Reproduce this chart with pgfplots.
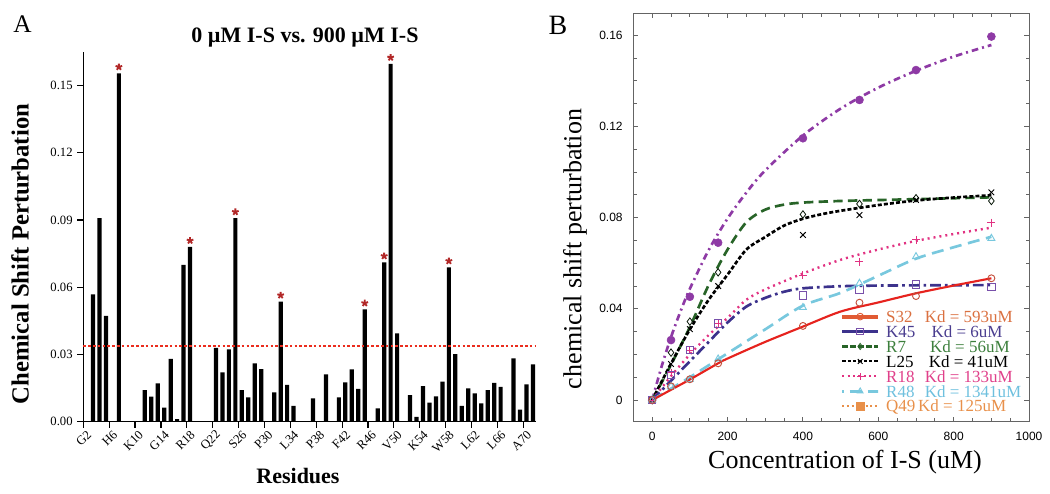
\documentclass[border=0pt]{standalone}
\usepackage{fontspec}
\setmainfont{Liberation Serif}
\newfontfamily\arialfont{Liberation Sans}
\usepackage{pgfplots}
\pgfplotsset{compat=1.18}

\definecolor{starred}{RGB}{178,40,40}
\definecolor{thrred}{RGB}{235,45,30}
\definecolor{cpurple}{RGB}{142,58,165}
\definecolor{cgreen}{RGB}{40,100,40}
\definecolor{cnavy}{RGB}{60,50,140}
\definecolor{csq}{RGB}{120,80,170}
\definecolor{cmag}{RGB}{225,50,130}
\definecolor{clblue}{RGB}{120,200,222}
\definecolor{cred}{RGB}{230,35,30}
\definecolor{cbrown}{RGB}{195,80,60}
\definecolor{tS}{RGB}{218,112,64}
\definecolor{tK}{RGB}{74,61,143}
\definecolor{tR}{RGB}{60,127,60}
\definecolor{tM}{RGB}{224,64,138}
\definecolor{tB}{RGB}{110,192,222}
\definecolor{tQ}{RGB}{232,144,74}
\definecolor{boxgray}{RGB}{100,100,100}

\pgfplotstableread{
u v
1.5 0.0568
2.5 0.0908
3.5 0.0472
5.5 0.1555
9.5 0.0141
10.5 0.0112
11.5 0.0171
12.5 0.0063
13.5 0.0280
14.5 0.0012
15.5 0.0700
16.5 0.0780
20.5 0.0330
21.5 0.0220
22.5 0.0323
23.5 0.0908
24.5 0.0141
25.5 0.0109
26.5 0.0260
27.5 0.0235
29.5 0.0131
30.5 0.0536
31.5 0.0164
32.5 0.0071
35.5 0.0104
37.5 0.0211
39.5 0.0109
40.5 0.0176
41.5 0.0234
42.5 0.0146
43.5 0.0501
45.5 0.0060
46.5 0.0711
47.5 0.1597
48.5 0.0394
50.5 0.0119
51.5 0.0022
52.5 0.0159
53.5 0.0085
54.5 0.0113
55.5 0.0179
56.5 0.0689
57.5 0.0302
58.5 0.0071
59.5 0.0149
60.5 0.0126
61.5 0.0082
62.5 0.0141
63.5 0.0173
64.5 0.0155
66.5 0.0283
67.5 0.0054
68.5 0.0167
69.5 0.0256
}\barsA

\pgfplotstableread{
u v
5.5 0.1583
16.5 0.0808
23.5 0.0936
30.5 0.0564
43.5 0.0529
46.5 0.0739
47.5 0.1625
56.5 0.0717
}\starsA

\begin{document}
\begin{tikzpicture}
\path[use as bounding box] (0,0) rectangle (787.5pt,369.75pt);

% ---------------- Panel A ----------------
\begin{axis}[
  at={(62.475pt,53.475pt)}, anchor=south west,
  scale only axis, width=339.7pt, height=277.3pt,
  xmin=0, xmax=70, ymin=0, ymax=0.165,
  clip=false,
  axis x line=bottom, axis y line=left,
  axis line style={-, line width=1pt},
  x axis line style={-}, y axis line style={-},
  tick align=outside, major tick length=4.5pt,
  tick style={black, line width=0.9pt},
  xtick={0,4,...,68},
  xticklabels={G2,H6,K10,G14,R18,Q22,S26,P30,L34,P38,F42,R46,V50,K54,W58,L62,L66,A70},
  xticklabel style={rotate=45, anchor=east, font=\fontsize{9.5}{10}\selectfont, inner sep=1.5pt, yshift=-6pt, xshift=2pt},
  ytick={0,0.03,0.06,0.09,0.12,0.15},
  yticklabels={0.00,0.03,0.06,0.09,0.12,0.15},
  yticklabel style={font=\fontsize{9.5}{10}\selectfont},
  /pgf/number format/assume math mode=true,
]
\addplot[ybar, bar width=0.65, bar shift=0pt, fill=black, draw=none] table[x=u,y=v] {\barsA};
\addplot[thrred, line width=1pt, dash pattern=on 2pt off 1.6pt] coordinates {(0,0.0338) (70,0.0338)};
\addplot[only marks, mark=star, mark size=2.6pt, starred, mark options={line width=1.4pt}] table[x=u,y=v] {\starsA};
\end{axis}

% ---------------- Panel B ----------------
\begin{axis}[
  at={(475pt,53.475pt)}, anchor=south west,
  scale only axis, width=296.8pt, height=306.3pt,
  xmin=-50, xmax=1000, ymin=-0.0095, ymax=0.1696,
  axis line style={boxgray, line width=0.8pt},
  tick align=inside, major tick length=3.5pt, minor tick length=2.5pt,
  tick style={boxgray, line width=0.7pt},
  xtick={0,200,400,600,800,1000},
  xticklabels={0,200,400,600,800,1000},
  minor x tick num=3,
  ytick={0,0.04,0.08,0.12,0.16},
  yticklabels={0,0.04,0.08,0.12,0.16},
  minor y tick num=3,
  xticklabel style={font=\arialfont\fontsize{9}{10}\selectfont, yshift=-4pt},
  yticklabel style={font=\arialfont\fontsize{9}{10}\selectfont, xshift=-4.5pt},
  /pgf/number format/assume math mode=true,
  legend image code/.code={\draw[mark repeat=2,mark phase=2] plot coordinates {(0pt,0pt)(13.5pt,0pt)(27pt,0pt)};},
  legend cell align=left,
  legend style={at={(0.522,0.272)}, anchor=north west, draw=none, fill=none,
    inner sep=0pt, row sep=2.6pt, column sep=4.5pt,
    font=\fontsize{12.75}{13}\selectfont,
    nodes={inner sep=0pt, text height=8.6pt, text depth=0pt}},
]
% Q49 (purple)
\addplot[cpurple, line width=2pt, dash pattern=on 5pt off 3pt on 1.5pt off 3pt, smooth, forget plot] coordinates {
(0,0)(25,0.0147)(50,0.0276)(75,0.0388)(100,0.0488)(150,0.0658)(200,0.0796)(250,0.0910)(300,0.1007)(400,0.1160)(500,0.1278)(600,0.1370)(700,0.1444)(800,0.1506)(900,0.1557)};
\addplot[only marks, mark=*, mark size=3pt, cpurple, forget plot] coordinates {
(0,0)(50,0.0263)(100,0.0453)(175,0.069)(400,0.1148)(550,0.1316)(700,0.1447)(900,0.1594)};
% R7 (green)
\addplot[cgreen, line width=2pt, dash pattern=on 7pt off 4pt, smooth, forget plot] coordinates {
(0,0)(50,0.0155)(100,0.032)(150,0.0505)(200,0.066)(250,0.078)(300,0.0835)(350,0.0857)(400,0.0866)(500,0.0873)(600,0.0877)(700,0.0881)(800,0.0885)(900,0.0889)};
\addplot[only marks, mark=diamond, mark size=2.8pt, black!75!cgreen, mark options={line width=0.6pt}, forget plot] coordinates {
(0,0)(50,0.0208)(100,0.0344)(175,0.056)(400,0.0814)(550,0.086)(700,0.0885)(900,0.0873)};
% L25 (black)
\addplot[black, line width=2pt, dash pattern=on 3pt off 1.6pt, smooth, forget plot] coordinates {
(0,0)(50,0.016)(100,0.031)(150,0.044)(200,0.055)(250,0.066)(300,0.0715)(350,0.0765)(400,0.0795)(450,0.0815)(500,0.083)(600,0.0855)(700,0.0875)(800,0.0888)(900,0.0898)};
\addplot[only marks, mark=x, mark size=3pt, black, mark options={line width=0.7pt}, forget plot] coordinates {
(0,0)(50,0.0158)(100,0.0311)(175,0.050)(400,0.0724)(550,0.0811)(700,0.0877)(900,0.0911)};
% R18 (magenta)
\addplot[cmag, line width=1.8pt, dash pattern=on 1.5pt off 3pt, smooth, forget plot] coordinates {
(0,0)(50,0.0105)(100,0.020)(150,0.0285)(200,0.036)(250,0.044)(300,0.0485)(400,0.0555)(500,0.0615)(600,0.066)(700,0.0698)(800,0.0728)(900,0.0756)};
\addplot[only marks, mark=+, mark size=3pt, cmag, mark options={line width=0.7pt}, forget plot] coordinates {
(0,0)(50,0.012)(100,0.0219)(175,0.0336)(400,0.0548)(550,0.0607)(700,0.0702)(900,0.0778)};
% K45 (navy)
\addplot[cnavy, line width=2pt, dash pattern=on 8pt off 3pt on 2pt off 3pt, smooth, forget plot] coordinates {
(0,0)(50,0.0085)(100,0.017)(150,0.0255)(200,0.034)(250,0.041)(300,0.0448)(350,0.0475)(400,0.049)(500,0.0499)(600,0.0502)(700,0.0503)(900,0.0504)};
\addplot[only marks, mark=square, mark size=2.8pt, csq, mark options={line width=0.7pt}, forget plot] coordinates {
(0,0)(50,0.011)(100,0.0219)(175,0.0336)(400,0.0458)(550,0.0485)(700,0.0507)(900,0.0497)};
% R48 (light blue)
\addplot[clblue, line width=2pt, dash pattern=on 9pt off 5pt, smooth, forget plot] coordinates {
(0,0)(50,0.005)(100,0.010)(200,0.0205)(300,0.031)(400,0.0414)(500,0.047)(600,0.0545)(700,0.062)(800,0.067)(900,0.0716)};
\addplot[only marks, mark=triangle, mark size=3pt, clblue, mark options={line width=0.7pt}, forget plot] coordinates {
(0,0)(50,0.006)(100,0.009)(175,0.018)(400,0.0406)(550,0.0512)(700,0.0629)(900,0.0709)};
% S32 (red)
\addplot[cred, line width=1.6pt, smooth, forget plot] coordinates {
(0,0)(50,0.0045)(100,0.009)(175,0.0161)(200,0.0182)(300,0.0255)(400,0.0322)(500,0.0388)(600,0.0428)(700,0.0468)(800,0.0502)(900,0.0534)};
\addplot[only marks, mark=o, mark size=2.6pt, cbrown, mark options={line width=0.7pt}, forget plot] coordinates {
(0,0)(50,0.006)(100,0.0091)(175,0.0161)(400,0.0325)(550,0.0427)(700,0.0456)(900,0.0534)};

% legend
\addlegendimage{tS!80!red, line width=3pt, mark=o, mark size=2.5pt, mark options={line width=0.7pt, solid}}
\addlegendentry{\textcolor{tS}{\makebox[29pt][l]{S32}Kd = 593uM}}
\addlegendimage{cnavy, line width=2pt, mark=square, mark size=2.5pt, mark options={csq, line width=0.7pt, solid}}
\addlegendentry{\textcolor{tK}{\makebox[34pt][l]{K45}Kd = 6uM}}
\addlegendimage{cgreen, line width=1.6pt, dash pattern=on 4pt off 2pt, mark=diamond, mark size=2.3pt, mark options={solid, line width=0.6pt}}
\addlegendentry{\textcolor{tR}{\makebox[33pt][l]{R7}Kd = 56uM}}
\addlegendimage{black, line width=1.6pt, dash pattern=on 2.5pt off 1.5pt, mark=x, mark size=2.5pt, mark options={solid, line width=0.7pt}}
\addlegendentry{\makebox[32pt][l]{L25}Kd = 41uM}
\addlegendimage{cmag, line width=1.5pt, dash pattern=on 1.5pt off 2.5pt, mark=+, mark size=2.5pt, mark options={solid, line width=0.7pt}}
\addlegendentry{\textcolor{tM}{\makebox[29pt][l]{R18}Kd = 133uM}}
\addlegendimage{clblue, line width=2pt, dash pattern=on 1.5pt off 4pt on 8pt off 0pt, mark=triangle, mark size=2.5pt, mark options={solid, line width=0.7pt}}
\addlegendentry{\textcolor{tB}{\makebox[29pt][l]{R48}Kd = 1341uM}}
\addlegendimage{tQ, line width=1.8pt, dash pattern=on 1.5pt off 2pt, mark=square*, mark size=2.6pt, mark options={solid}}
\addlegendentry{\textcolor{tQ}{\makebox[24pt][l]{Q49}Kd = 125uM}}
\end{axis}

% ---------------- texts ----------------
\node[inner sep=0pt, font=\bfseries\fontsize{16.5}{18}\selectfont] at (228.75pt,341.5pt) {0 µM I-S vs. 900 µM I-S};
\node[inner sep=0pt, rotate=90, font=\bfseries\fontsize{18.5}{20}\selectfont] at (15pt,179.25pt) {Chemical Shift Perturbation};
\node[inner sep=0pt, font=\bfseries\fontsize{16.5}{18}\selectfont] at (223.5pt,12.75pt) {Residues};
\node[inner sep=0pt, rotate=90, font=\fontsize{19.5}{21}\selectfont] at (431.25pt,183pt) {chemical shift perturbation};
\node[inner sep=0pt, font=\fontsize{19.5}{21}\selectfont] at (633.75pt,23.25pt) {Concentration of I-S (uM)};
\node[inner sep=0pt, font=\fontsize{19}{20}\selectfont] at (16.9pt,352pt) {A};
\node[inner sep=0pt, font=\fontsize{21}{22}\selectfont] at (418.5pt,351pt) {B};
\end{tikzpicture}
\end{document}
